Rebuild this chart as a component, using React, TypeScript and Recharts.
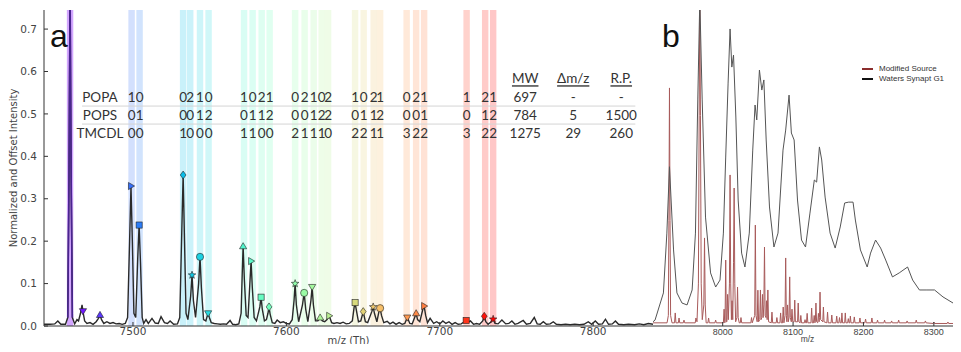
import React from 'react';
import { ComposedChart, Line, Scatter, XAxis, YAxis, ReferenceArea, ReferenceLine } from 'recharts';

// Panel a: lipid-bound protein spectrum, [m/z, normalized intensity]
const spectrumA: [number, number][] = [
  [7442, 0.004], [7446, 0.004], [7449, 0.005], [7451, 0.012], [7453, 0.004], [7456, 0.004],
  [7457.5, 0.02], [7458.3, 0.35], [7459, 0.8], [7459.7, 0.35], [7460.5, 0.02],
  [7462, 0.005], [7463.5, 0.015], [7464.5, 0.012], [7465.8, 0.03], [7466.8, 0.05], [7467.6, 0.03], [7468.5, 0.012],
  [7470, 0.006], [7472, 0.008], [7474, 0.004], [7476, 0.01], [7477.5, 0.018], [7478.5, 0.026], [7479.5, 0.015],
  [7481, 0.006], [7483, 0.01], [7485, 0.006], [7487, 0.008], [7489, 0.005], [7491, 0.006], [7493, 0.004], [7495, 0.006],
  [7496.5, 0.02], [7497.8, 0.2], [7498.7, 0.33], [7499.6, 0.2], [7500.6, 0.03], [7501.8, 0.02], [7503.1, 0.16], [7504, 0.238], [7504.9, 0.15], [7506, 0.02],
  [7507, 0.006], [7508.5, 0.015], [7510, 0.006], [7512.4, 0.018], [7514.5, 0.007], [7516.5, 0.006], [7518.3, 0.022], [7520.5, 0.008], [7522.5, 0.006], [7524.2, 0.012], [7526.5, 0.004], [7529, 0.005],
  [7530.5, 0.02], [7531.8, 0.22], [7532.7, 0.356], [7533.6, 0.2], [7534.6, 0.03], [7535.8, 0.015], [7537.6, 0.07], [7538.5, 0.12], [7539.4, 0.06], [7540.8, 0.02],
  [7542.8, 0.1], [7543.7, 0.163], [7544.6, 0.09], [7546, 0.015], [7547.5, 0.012], [7548.3, 0.022], [7549, 0.03], [7549.8, 0.02], [7551, 0.008],
  [7553, 0.006], [7555, 0.005], [7557, 0.004], [7559, 0.005], [7561, 0.004], [7563.3, 0.013], [7565, 0.004], [7567, 0.003], [7569, 0.005],
  [7570.5, 0.03], [7571.2, 0.12], [7571.8, 0.188], [7572.6, 0.11], [7573.8, 0.025], [7575, 0.02], [7576.2, 0.1], [7577, 0.153], [7577.8, 0.09], [7579, 0.02],
  [7580.5, 0.012], [7582.7, 0.045], [7583.5, 0.068], [7584.3, 0.04], [7585.7, 0.012], [7587, 0.015], [7588, 0.03], [7588.7, 0.045], [7589.4, 0.028], [7590.8, 0.008],
  [7592.5, 0.006], [7594, 0.014], [7596, 0.008], [7598, 0.01], [7600, 0.006], [7602, 0.005],
  [7603.8, 0.015], [7605, 0.06], [7605.7, 0.1], [7606.5, 0.05], [7608, 0.01], [7610.5, 0.05], [7611.6, 0.078], [7612.6, 0.04], [7614, 0.01],
  [7616, 0.06], [7616.8, 0.092], [7617.6, 0.05], [7619, 0.012], [7620.5, 0.012], [7622, 0.02], [7623.5, 0.012], [7625, 0.01], [7626.5, 0.015], [7627.9, 0.024], [7629.5, 0.008],
  [7631, 0.006], [7633, 0.008], [7635, 0.006], [7637, 0.009], [7639, 0.005], [7641, 0.006],
  [7643, 0.012], [7644.2, 0.045], [7644.8, 0.055], [7645.5, 0.04], [7647, 0.01], [7648.5, 0.012], [7650.1, 0.034], [7651.5, 0.01], [7653, 0.008],
  [7655.8, 0.035], [7656.6, 0.045], [7657.4, 0.03], [7659, 0.01], [7660.4, 0.035], [7661.1, 0.042], [7662, 0.025], [7663.5, 0.008],
  [7665.7, 0.011], [7667.5, 0.005], [7669.5, 0.009], [7671.5, 0.004], [7673.5, 0.008], [7675.5, 0.004], [7677.2, 0.006],
  [7678.8, 0.02], [7680.5, 0.006], [7682, 0.005], [7683.8, 0.022], [7684.6, 0.03], [7685.5, 0.015], [7687, 0.01], [7689, 0.04], [7689.8, 0.047], [7690.8, 0.025], [7692, 0.008],
  [7693.7, 0.018], [7696, 0.006], [7698, 0.01], [7700, 0.005], [7702, 0.012], [7704, 0.006], [7706, 0.01], [7708, 0.004], [7710, 0.008], [7712, 0.004], [7714, 0.005],
  [7716, 0.01], [7717.2, 0.013], [7718.5, 0.009], [7720, 0.012], [7722, 0.004], [7724, 0.006], [7726, 0.004], [7728, 0.012], [7729, 0.023], [7730, 0.01],
  [7731.5, 0.004], [7733.5, 0.01], [7734.8, 0.016], [7736, 0.006],
  [7738, 0.005], [7740.5, 0.014], [7743, 0.005], [7745, 0.006], [7747, 0.012], [7749, 0.004], [7751, 0.006], [7754.4, 0.013], [7756.5, 0.004], [7759, 0.006],
  [7761.6, 0.02], [7763.5, 0.005], [7765.5, 0.004], [7767.5, 0.01], [7769.5, 0.004], [7772, 0.005], [7774, 0.01], [7776, 0.004],
  [7779, 0.003], [7782, 0.004], [7785, 0.003], [7788, 0.004], [7791, 0.003], [7794, 0.004], [7796.8, 0.01], [7799, 0.004], [7801.4, 0.012], [7803.5, 0.004],
  [7806, 0.005], [7808, 0.016], [7810, 0.004], [7812.5, 0.005], [7814.5, 0.012], [7816.5, 0.004],
  [7820, 0.003], [7823, 0.004], [7827, 0.003], [7830, 0.005], [7833, 0.003], [7836, 0.006], [7839, 0.004],
];

// apo protein peak, drawn in purple on top
const apoPeak: [number, number][] = [
  [7457.5, 0.02], [7458.3, 0.35], [7459, 0.8], [7459.7, 0.35], [7460.5, 0.02],
];

// assigned peaks (marker positions)
const markerPeaks: [number, number][] = [
  [7467.4, 0.035], [7478.5, 0.026], [7498.7, 0.33], [7504.0, 0.238], [7532.7, 0.356], [7538.5, 0.12], [7543.7, 0.163],
  [7549.0, 0.03], [7571.8, 0.188], [7577.0, 0.153], [7583.5, 0.068], [7588.7, 0.045], [7605.7, 0.1], [7611.6, 0.078],
  [7616.8, 0.092], [7622.0, 0.02], [7627.9, 0.024], [7644.8, 0.055], [7650.1, 0.034], [7656.6, 0.045], [7661.1, 0.042],
  [7678.8, 0.02], [7684.6, 0.03], [7689.8, 0.047], [7717.2, 0.013], [7729.0, 0.023], [7734.8, 0.016],
];

// highlighted bands (m/z centre) and the lipid counts written above each
const apoBand = 7459;
const bandCenters = [
  7499.1, 7504.3, 7532.7, 7537.3, 7543.7, 7549.3, 7572.4, 7578.0, 7583.9, 7589.1,
  7605.7, 7611.9, 7617.8, 7623.0, 7627.2, 7644.8, 7650.4, 7656.9, 7661.1,
  7678.4, 7684.6, 7689.8, 7717.5, 7729.6, 7734.8,
];
const popaCounts = [1, 0, 0, 2, 1, 0, 1, 0, 2, 1, 0, 2, 1, 0, 2, 1, 0, 2, 1, 0, 2, 1, 1, 2, 1];
const popsCounts = [0, 1, 0, 0, 1, 2, 0, 1, 1, 2, 0, 0, 1, 2, 2, 0, 1, 1, 2, 0, 0, 1, 0, 1, 2];
const tmcdlCounts = [0, 0, 1, 0, 0, 0, 1, 1, 0, 0, 2, 1, 1, 1, 0, 2, 2, 1, 1, 3, 2, 2, 3, 2, 2];

const rowNames = ['POPA', 'POPS', 'TMCDL'];
const tableHeaders = ['MW', 'Δm/z', 'R.P.'];
const mwValues = ['697', '784', '1275'];
const dmzValues = ['-', '5', '29'];
const rpValues = ['-', '1500', '260'];

const xTicksA = [7500, 7600, 7700, 7800];
const yTicksA = [0, 0.1, 0.2, 0.3, 0.4, 0.5, 0.6, 0.7];

// Panel b: instrument comparison, [m/z, intensity]
const watersSynapt: [number, number][] = [
  [7901, 0.02], [7903.9, 0.028], [7915.8, 0.157], [7920.7, 0.441], [7924.4, 0.756], [7930.2, 0.361], [7935.0, 0.157],
  [7942.2, 0.109], [7949.4, 0.1], [7956.6, 0.171], [7961.3, 0.441], [7964.6, 1.073], [7967.5, 1.55], [7970.9, 1.073],
  [7975.6, 0.517], [7982.8, 0.252], [7990.0, 0.185], [7996.2, 0.218], [8001.0, 0.441], [8004.3, 0.802], [8007.7, 1.153],
  [8010.5, 1.41], [8013.0, 1.229], [8015.4, 1.286], [8018.7, 0.992], [8022.0, 0.598], [8026.9, 0.346], [8031.6, 0.28],
  [8037.8, 0.441], [8042.7, 0.835], [8046.0, 1.049], [8048.4, 0.978], [8052.2, 1.215], [8055.6, 1.12], [8058.5, 1.168],
  [8061.8, 0.883], [8066.5, 0.565], [8072.8, 0.375], [8078.6, 0.441], [8085.7, 0.835], [8089.5, 0.93], [8094.3, 1.096],
  [8097.6, 0.916], [8101.5, 0.883], [8106.3, 0.598], [8112.0, 0.408], [8117.7, 0.375], [8124.0, 0.536], [8130.2, 0.693],
  [8133.5, 0.683], [8137.4, 0.85], [8140.7, 0.788], [8145.5, 0.612], [8152.6, 0.441], [8159.8, 0.37], [8167.0, 0.47],
  [8173.3, 0.584], [8179.0, 0.588], [8185.2, 0.588], [8188.5, 0.503], [8195.7, 0.361], [8205.3, 0.28], [8210.1, 0.346],
  [8217.2, 0.408], [8224.4, 0.37], [8231.6, 0.313], [8241.2, 0.233], [8250.8, 0.252], [8262.7, 0.28], [8269.9, 0.218],
  [8279.5, 0.171], [8289.0, 0.171], [8301.0, 0.171], [8313.0, 0.138], [8327.3, 0.109], [8341.7, 0.109],
];

const modifiedSource: [number, number][] = [
  [7901, 0.015], [7921, 0.015], [7922.8, 0.05], [7923.6, 0.5], [7924.4, 1.13], [7925.2, 0.5], [7926, 0.05], [7928, 0.015],
  [7931.6, 0.015], [7932.6, 0.062], [7933.6, 0.015], [7937, 0.015], [7938, 0.038], [7939, 0.015], [7944, 0.015], [7945, 0.028], [7946, 0.015],
  [7961, 0.015], [7962, 0.038], [7963.5, 0.02], [7965.5, 0.2], [7966.6, 1.0], [7967.5, 1.6], [7968.4, 1.0], [7969.5, 0.2], [7971, 0.03],
  [7973.2, 0.1], [7974.2, 0.418], [7975.2, 0.1], [7976.5, 0.015], [7979, 0.015], [7980, 0.038], [7981, 0.015], [7989, 0.015], [7990, 0.028], [7991, 0.015],
  [8001, 0.015], [8002, 0.08], [8003, 0.015], [8003.4, 0.02], [8004.3, 0.313], [8005.2, 0.02], [8006, 0.02], [8007, 0.15], [8008, 0.03],
  [8009.6, 0.2], [8010.5, 0.717], [8011.4, 0.2], [8012.4, 0.03], [8013.3, 0.12], [8014.3, 0.03], [8015.4, 0.3], [8016.3, 0.655], [8017.2, 0.2],
  [8018.4, 0.02], [8020.2, 0.04], [8021.1, 0.185], [8022, 0.04], [8023.5, 0.015], [8025, 0.015], [8026, 0.04], [8027, 0.015],
  [8040, 0.015], [8041, 0.04], [8042, 0.015], [8045.5, 0.05], [8046.4, 0.479], [8047.3, 0.05], [8049, 0.02], [8050, 0.17], [8051, 0.02],
  [8052.7, 0.03], [8053.6, 0.171], [8054.5, 0.03], [8055.6, 0.04], [8056.5, 0.15], [8057.5, 0.04], [8058.5, 0.1], [8059.4, 0.375], [8060.3, 0.05],
  [8061.5, 0.04], [8062.3, 0.12], [8063.2, 0.03], [8064.2, 0.171], [8065.2, 0.02], [8069, 0.015], [8070, 0.066], [8071, 0.015],
  [8076, 0.015], [8077, 0.04], [8078, 0.015], [8081.3, 0.015], [8082.3, 0.062], [8083.3, 0.015], [8085, 0.015], [8086, 0.09], [8087, 0.015],
  [8088.6, 0.05], [8089.5, 0.323], [8090.4, 0.05], [8091.2, 0.02], [8092.2, 0.1], [8093.2, 0.02], [8094.3, 0.04], [8095.2, 0.233], [8096.1, 0.04],
  [8097.5, 0.02], [8098.5, 0.08], [8099.5, 0.02], [8101.5, 0.02], [8102.4, 0.123], [8103.3, 0.02], [8106.4, 0.02], [8107.3, 0.109], [8108.2, 0.02],
  [8110, 0.015], [8111, 0.05], [8112, 0.015], [8116, 0.015], [8117, 0.03], [8118, 0.015], [8119, 0.015], [8120, 0.06], [8121, 0.015],
  [8125.4, 0.015], [8126.4, 0.085], [8127.4, 0.015], [8129, 0.015], [8130, 0.05], [8131, 0.015], [8131.6, 0.02], [8132.5, 0.109], [8133.4, 0.02],
  [8135, 0.015], [8136, 0.06], [8137, 0.02], [8137.5, 0.04], [8138.3, 0.161], [8139.2, 0.03], [8142.2, 0.02], [8143.1, 0.09], [8144, 0.02],
  [8148, 0.015], [8149, 0.066], [8150, 0.015], [8154, 0.015], [8155, 0.052], [8156, 0.015], [8161, 0.015], [8162, 0.047], [8163, 0.015],
  [8165, 0.015], [8166, 0.04], [8167, 0.015], [8168.5, 0.015], [8169.4, 0.062], [8170.3, 0.015], [8173.3, 0.015], [8174.2, 0.062], [8175.1, 0.015],
  [8177.5, 0.015], [8178.5, 0.035], [8179.5, 0.015], [8180.5, 0.015], [8181.4, 0.047], [8182.3, 0.015], [8186, 0.015], [8187, 0.043], [8188, 0.015],
  [8194, 0.015], [8195, 0.038], [8196, 0.015], [8202, 0.015], [8203, 0.033], [8204, 0.015], [8211, 0.015], [8212, 0.038], [8213, 0.015],
  [8219, 0.015], [8220, 0.028], [8221, 0.015], [8229, 0.015], [8230, 0.028], [8231, 0.015], [8239, 0.015], [8240, 0.024], [8241, 0.015],
  [8249, 0.015], [8250, 0.028], [8251, 0.015], [8261, 0.015], [8262, 0.024], [8263, 0.015], [8274, 0.015], [8275, 0.028], [8276, 0.015],
  [8287, 0.015], [8288, 0.024], [8289, 0.015], [8299, 0.012], [8300, 0.019], [8301, 0.012], [8319, 0.012], [8320, 0.019], [8321, 0.012], [8340, 0.012],
];

const xTicksB = [8000, 8100, 8200, 8300];
const yTicksB = [0.2, 0.4, 0.6, 0.8, 1.0, 1.2, 1.4];

// layout of the in-plot table (data units of panel a)
const ROW_Y = [0.54, 0.497, 0.455];
const HEADER_Y = 0.584;
const RULE_Y = [0.5185, 0.4761];
const NAME_X = 7478.5;
const COL_X = [7755.7, 7787.0, 7818.3];
const RULE_FROM = 7466.8;
const RULE_TO = 7827.5;
const BAND_HALF = 2.1;

const MARKER_CYCLE = ['v', '^', '>', 's', 'D', '*', 'o'];
const TEXT_COLOR = '#333';
const AXIS_COLOR = '#333';

// matplotlib "rainbow" colormap over the assigned m/z range
const rainbow = (mz: number, alpha = 1) => {
  const t = Math.min(1, Math.max(0, (mz - 7459) / (7735 - 7459)));
  const r = Math.min(1, Math.abs(2 * t - 0.5));
  const g = Math.sin(Math.PI * t);
  const b = Math.cos((Math.PI * t) / 2);
  return `rgba(${Math.round(r * 255)},${Math.round(g * 255)},${Math.round(b * 255)},${alpha})`;
};

const toPoints = (pairs: [number, number][]) => pairs.map(([mz, v]) => ({ mz, v }));

const PeakMarker = (props: any) => {
  const { cx, cy, payload } = props;
  if (cx == null || cy == null) return null;
  const r = 3.6;
  const fill = rainbow(payload.mz);
  const common = { fill, stroke: '#222', strokeWidth: 0.6 };
  switch (payload.kind) {
    case 'v':
      return <polygon {...common} points={`${cx - r},${cy - r * 0.7} ${cx + r},${cy - r * 0.7} ${cx},${cy + r}`} />;
    case '^':
      return <polygon {...common} points={`${cx - r},${cy + r * 0.7} ${cx + r},${cy + r * 0.7} ${cx},${cy - r}`} />;
    case '>':
      return <polygon {...common} points={`${cx - r * 0.7},${cy - r} ${cx - r * 0.7},${cy + r} ${cx + r},${cy}`} />;
    case 's':
      return <rect {...common} x={cx - r * 0.85} y={cy - r * 0.85} width={r * 1.7} height={r * 1.7} />;
    case 'D':
      return <polygon {...common} points={`${cx},${cy - r * 1.1} ${cx + r * 0.8},${cy} ${cx},${cy + r * 1.1} ${cx - r * 0.8},${cy}`} />;
    case '*': {
      const pts: string[] = [];
      for (let k = 0; k < 10; k++) {
        const rr = k % 2 === 0 ? r * 1.1 : r * 0.45;
        const a = -Math.PI / 2 + (k * Math.PI) / 5;
        pts.push(`${cx + rr * Math.cos(a)},${cy + rr * Math.sin(a)}`);
      }
      return <polygon {...common} points={pts.join(' ')} />;
    }
    default:
      return <circle {...common} cx={cx} cy={cy} r={r} />;
  }
};

const TableText = (props: any) => {
  const { cx, cy, payload } = props;
  if (cx == null || cy == null) return null;
  return (
    <text
      x={cx}
      y={cy}
      textAnchor="middle"
      dominantBaseline="central"
      fontFamily="Lato, 'Open Sans', sans-serif"
      fontSize={13.5}
      fill={TEXT_COLOR}
      textDecoration={payload.underline ? 'underline' : undefined}
    >
      {payload.label}
    </text>
  );
};

// axis titles placed relative to the axis box recharts hands over
const axisTitle = (text: string, dy: number, size: number, family: string) => (p: any) => {
  const vb = p.viewBox || { x: 0, y: 0, width: 0, height: 0 };
  return (
    <text
      x={vb.x + vb.width / 2}
      y={vb.y + dy}
      textAnchor="middle"
      dominantBaseline="central"
      fontSize={size}
      fill="#444"
      fontFamily={family}
    >
      {text}
    </text>
  );
};

export default function App() {
  const lineA = toPoints(spectrumA);
  const apoA = toPoints(apoPeak);
  const markers = markerPeaks.map(([mz, v], i) => ({ mz, v, kind: MARKER_CYCLE[i % MARKER_CYCLE.length] }));

  const tableCells = [
    ...[popaCounts, popsCounts, tmcdlCounts].flatMap((row, r) =>
      row.map((n, i) => ({ mz: bandCenters[i], v: ROW_Y[r], label: String(n) }))
    ),
    ...rowNames.map((name, r) => ({ mz: NAME_X, v: ROW_Y[r], label: name })),
    ...tableHeaders.map((h, c) => ({ mz: COL_X[c], v: HEADER_Y, label: h, underline: true })),
    ...[mwValues, dmzValues, rpValues].flatMap((col, c) =>
      col.map((val, r) => ({ mz: COL_X[c], v: ROW_Y[r], label: val }))
    ),
  ];

  const waters = toPoints(watersSynapt);
  const modified = toPoints(modifiedSource);

  const tickA = { fontSize: 10.5, fill: '#444', fontFamily: 'DejaVu Sans' };
  const tickB = { fontSize: 9, fill: '#444', fontFamily: 'Liberation Sans' };

  return (
    <div style={{ position: 'relative', width: 961, height: 352, margin: -8, background: '#fff', overflow: 'hidden' }}>
      <div style={{ position: 'absolute', left: 0, top: 0 }}>
        <ComposedChart width={654} height={352} margin={{ top: 10, right: 1, bottom: 0, left: 0 }}>
          <XAxis
            dataKey="mz"
            type="number"
            domain={[7442, 7839]}
            ticks={xTicksA}
            interval={0}
            allowDataOverflow
            height={26}
            tick={tickA}
            tickSize={-4}
            tickMargin={6}
            stroke={AXIS_COLOR}
            label={{ content: axisTitle('m/z (Th)', 14, 10, 'DejaVu Sans') }}
          />
          <XAxis
            xAxisId="top"
            orientation="top"
            dataKey="mz"
            type="number"
            domain={[7442, 7839]}
            ticks={xTicksA}
            interval={0}
            allowDataOverflow
            height={0}
            tick={false}
            tickSize={-4}
            stroke={AXIS_COLOR}
          />
          <YAxis
            dataKey="v"
            type="number"
            domain={[0, 0.745]}
            ticks={yTicksA}
            interval={0}
            allowDataOverflow
            width={44}
            tick={tickA}
            tickFormatter={(v: number) => v.toFixed(1)}
            tickSize={-4}
            tickMargin={11}
            stroke={AXIS_COLOR}
            label={{
              content: (p: any) => {
                const vb = p.viewBox || { x: 0, y: 10, height: 316 };
                return (
                  <text
                    transform={`translate(${vb.x + 13},${vb.y + vb.height / 2}) rotate(-90)`}
                    textAnchor="middle"
                    dominantBaseline="central"
                    fontSize={10}
                    fill="#444"
                    fontFamily="DejaVu Sans"
                  >
                    Normalized and Offset Intensity
                  </text>
                );
              },
            }}
          />

          <ReferenceArea x1={apoBand - BAND_HALF} x2={apoBand + BAND_HALF} fill={rainbow(apoBand)} fillOpacity={0.35} stroke="none" />
          {bandCenters.map((c) => (
            <ReferenceArea key={c} x1={c - BAND_HALF} x2={c + BAND_HALF} fill={rainbow(c)} fillOpacity={0.22} stroke="none" />
          ))}

          {RULE_Y.map((y) => (
            <ReferenceLine
              key={y}
              segment={[{ x: RULE_FROM, y }, { x: RULE_TO, y }]}
              stroke="#d4d4d4"
              strokeWidth={1}
            />
          ))}

          <Line data={lineA} dataKey="v" type="linear" stroke="#2a2a2a" strokeWidth={1.4} dot={false} activeDot={false} isAnimationActive={false} />
          <Line data={apoA} dataKey="v" type="linear" stroke="#4a2590" strokeWidth={1.6} dot={false} activeDot={false} isAnimationActive={false} />
          <Scatter data={markers} dataKey="v" shape={<PeakMarker />} isAnimationActive={false} />
          <Scatter data={tableCells} dataKey="v" shape={<TableText />} isAnimationActive={false} />
        </ComposedChart>
      </div>

      <div style={{ position: 'absolute', left: 652, top: 0 }}>
        <ComposedChart width={310} height={352} margin={{ top: 10, right: 0, bottom: 0, left: 1 }}>
          <XAxis
            dataKey="mz"
            type="number"
            domain={[7901, 8340]}
            ticks={xTicksB}
            interval={0}
            allowDataOverflow
            height={26}
            tick={tickB}
            tickSize={-4}
            tickMargin={7}
            stroke={AXIS_COLOR}
            label={{ content: axisTitle('m/z', 13, 8.5, 'Liberation Sans') }}
          />
          <XAxis
            xAxisId="top"
            orientation="top"
            dataKey="mz"
            type="number"
            domain={[7901, 8340]}
            ticks={xTicksB}
            interval={0}
            allowDataOverflow
            height={0}
            tick={false}
            tickSize={-4}
            stroke={AXIS_COLOR}
          />
          <YAxis
            dataKey="v"
            type="number"
            domain={[0, 1.5]}
            ticks={yTicksB}
            interval={0}
            allowDataOverflow
            width={0}
            tick={false}
            tickSize={-4}
            stroke={AXIS_COLOR}
          />
          <Line data={modified} dataKey="v" type="linear" stroke="#a85a5a" strokeWidth={1} dot={false} activeDot={false} isAnimationActive={false} />
          <Line data={waters} dataKey="v" type="linear" stroke="#555" strokeWidth={1} dot={false} activeDot={false} isAnimationActive={false} />
        </ComposedChart>
      </div>

      <div style={{ position: 'absolute', left: 50, top: 20, fontSize: 32, lineHeight: '32px', fontFamily: 'Liberation Sans', color: '#111' }}>a</div>
      <div style={{ position: 'absolute', left: 662, top: 20, fontSize: 32, lineHeight: '32px', fontFamily: 'Liberation Sans', color: '#111' }}>b</div>

      <div style={{ position: 'absolute', left: 862, top: 64, fontFamily: 'Liberation Sans', fontSize: 8, color: '#333', lineHeight: '10px' }}>
        {[
          { name: 'Modified Source', color: '#8b2e2e' },
          { name: 'Waters Synapt G1', color: '#111' },
        ].map((item) => (
          <div key={item.name} style={{ display: 'flex', alignItems: 'center' }}>
            <span style={{ display: 'inline-block', width: 11, height: 2, background: item.color, marginRight: 6 }} />
            {item.name}
          </div>
        ))}
      </div>
    </div>
  );
}
